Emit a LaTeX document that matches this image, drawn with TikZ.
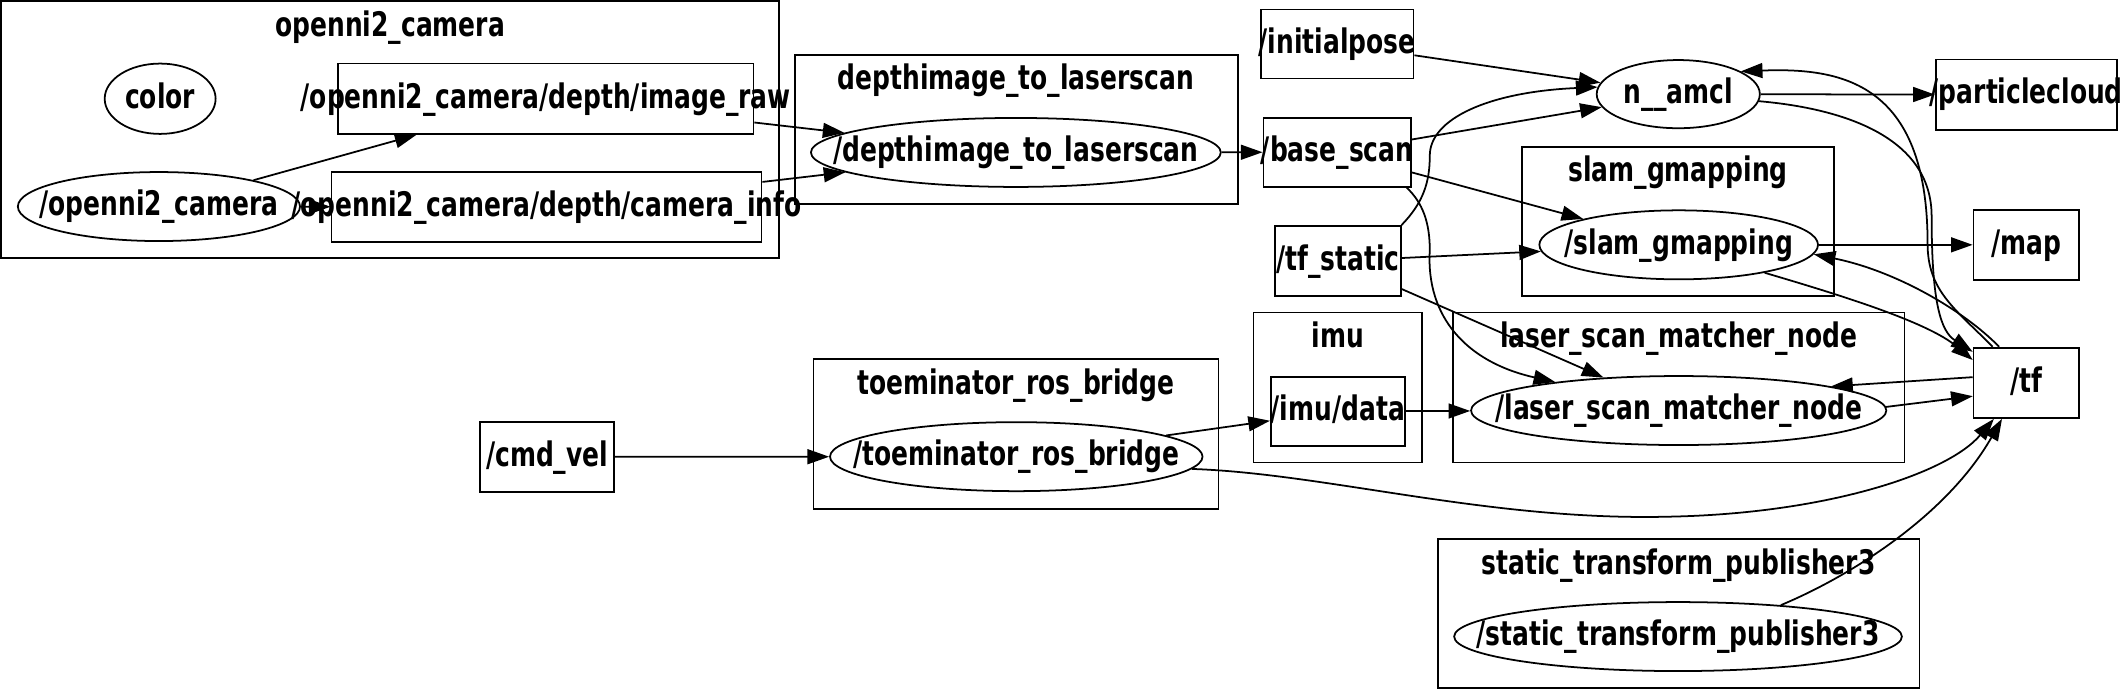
\documentclass[tikz,border=0pt]{standalone}
\usepackage{fontspec}
\newfontfamily\lblfont{DejaVu Sans Condensed Bold}[FakeStretch=0.82]
\usetikzlibrary{arrows.meta,shapes.geometric}
\newcommand\mk[1]{\makebox[0pt]{#1}}
\begin{document}
\begin{tikzpicture}[x=1pt,y=-1pt,line width=1.3pt,
  every node/.style={font=\lblfont\fontsize{25}{28}\selectfont,inner sep=0pt,text height=18.5pt,text depth=4.8pt},
  topic/.style={draw,rectangle,minimum height=52pt},
  ell/.style={draw,ellipse,minimum height=51pt},
  clus/.style={draw},
  conn/.style={-{Triangle[length=16pt,width=11pt]}}]
\useasboundingbox (0,0) rectangle (1568,510);
% clusters
\draw[clus] (1,1) rectangle (576,191);
\node (Lopenni) at (288.5,20) {\mk{openni2\_camera}};
\draw[clus] (587.5,40.7) rectangle (915,151);
\node (Ldepth) at (751,59.5) {\mk{depthimage\_to\_laserscan}};
\draw[clus] (1125,108.4) rectangle (1356,218.8);
\node (Lslam) at (1240.5,127) {\mk{slam\_gmapping}};
\draw[clus] (1074,231) rectangle (1408,342);
\node (Llsm) at (1241,250) {\mk{laser\_scan\_matcher\_node}};
\draw[clus] (926.7,231) rectangle (1051,342);
\node (Limu) at (989,250) {\mk{imu}};
\draw[clus] (601.4,265.4) rectangle (900.8,376.3);
\node (Ltoe) at (751,284.5) {\mk{toeminator\_ros\_bridge}};
\draw[clus] (1062.8,398.5) rectangle (1419,508.6);
\node (Lstp) at (1241,417.5) {\mk{static\_transform\_publisher3}};
% nodes
\node[ell,minimum width=82pt,minimum height=52pt] (color) at (118.4,73) {\mk{color}};
\node[ell,minimum width=208.6pt] (oc) at (117.5,152.7) {\mk{/openni2\_camera}};
\node[topic,minimum width=307pt] (ir) at (403.5,73) {\mk{/openni2\_camera/depth/image\_raw}};
\node[topic,minimum width=318pt] (ci) at (404,153) {\mk{/openni2\_camera/depth/camera\_info}};
\node[ell,minimum width=303pt] (dl) at (751,112.7) {\mk{/depthimage\_to\_laserscan}};
\node[topic,minimum width=113pt,minimum height=51pt] (ip) at (988.5,32.5) {\mk{/initialpose}};
\node[topic,minimum width=109pt,minimum height=51pt] (bs) at (988.5,112.5) {\mk{/base\_scan}};
\node[topic,minimum width=93pt] (ts) at (989,193) {\mk{/tf\_static}};
\node[ell,minimum width=120.6pt,minimum height=50.4pt] (amcl) at (1240.7,69.6) {\mk{n\_\_amcl}};
\node[topic,minimum width=134pt] (pc) at (1498,70) {\mk{/particlecloud}};
\node[ell,minimum width=206pt] (sg) at (1241,181) {\mk{/slam\_gmapping}};
\node[topic,minimum width=78pt] (map) at (1498,181) {\mk{/map}};
\node[topic,minimum width=78pt] (tf) at (1498,283) {\mk{/tf}};
\node[topic,minimum width=99pt,minimum height=51pt] (imud) at (989,304) {\mk{/imu/data}};
\node[ell,minimum width=307pt] (lsm) at (1241,303.5) {\mk{/laser\_scan\_matcher\_node}};
\node[topic,minimum width=99pt] (cmd) at (404.5,337.7) {\mk{/cmd\_vel}};
\node[ell,minimum width=275.4pt] (tb) at (751.3,337.6) {\mk{/toeminator\_ros\_bridge}};
\node[ell,minimum width=331pt] (stp) at (1240.5,470.6) {\mk{/static\_transform\_publisher3}};
% straight edges
\draw[conn] (oc) -- (ir);
\draw[conn] (oc) -- (ci);
\draw[conn] (ir) -- (dl);
\draw[conn] (ci) -- (dl);
\draw[conn] (dl) -- (bs);
\draw[conn] (ip) -- (amcl);
\draw[conn] (bs) -- (amcl);
\draw[conn] (bs) -- (sg);
\draw[conn] (ts) -- (sg);
\draw[conn] (ts) -- (lsm);
\draw[conn] (amcl) -- (pc);
\draw[conn] (sg) -- (map);
\draw[conn] (tb) -- (imud);
\draw[conn] (imud) -- (lsm);
\draw[conn] (cmd) -- (tb);
\draw[conn] (tf.174) -- (lsm.9.7);
\draw[conn] (lsm.1) -- (tf.194);
% curved edges
\draw[conn] (ts.north east) .. controls (1052,150) and (1057,135) .. (1057,115)
  .. controls (1057,88) and (1100,68) .. (amcl.175);
\draw[conn] (bs.-27) .. controls (1052,150) and (1057,165) .. (1057,185)
  .. controls (1054,235) and (1085,268) .. (lsm.167);
\draw[conn] (amcl.-5) .. controls (1360,80) and (1428,100) .. (1428,160)
  .. controls (1428,225) and (1435,245) .. (tf.150);
\draw[conn] (tf.133) .. controls (1445,228) and (1425,215) .. (1425,180)
  .. controls (1425,60) and (1360,50) .. (amcl.20);
\draw[conn] (tf.127) .. controls (1450,228) and (1400,200) .. (sg.-4);
\draw[conn] (sg.-18) .. controls (1360,218) and (1425,238) .. (tf.157);
\draw[conn] (tb.-4) .. controls (980,350) and (1100,385) .. (1232,382)
  .. controls (1350,380) and (1440,350) .. (tf.228);
\draw[conn] (stp.17) .. controls (1370,425) and (1440,380) .. (tf.236);
\end{tikzpicture}
\end{document}
